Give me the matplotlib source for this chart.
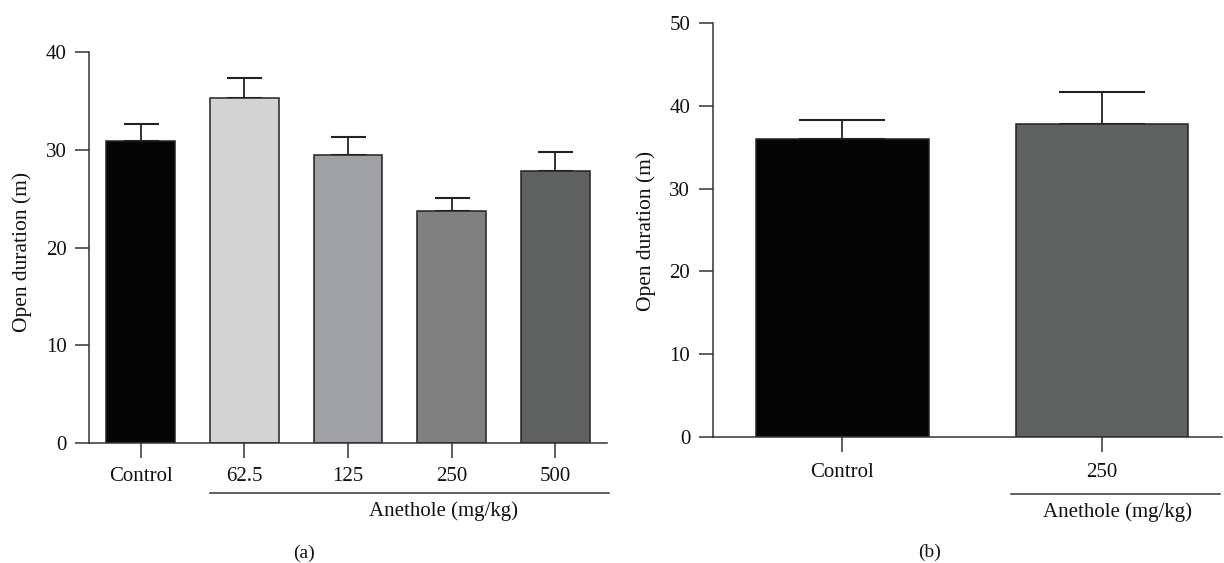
import matplotlib
matplotlib.use("Agg")
import matplotlib.pyplot as plt
import matplotlib.transforms as mtransforms

# Data panel (a)
cats_a = ["Control", "62.5", "125", "250", "500"]
means_a = [30.9, 35.3, 29.45, 23.7, 27.8]
errs_a = [1.8, 2.1, 1.9, 1.35, 2.0]
colors_a = ["#050505", "#d3d3d3", "#a0a1a4", "#808080", "#5f6060"]

# Data panel (b)
cats_b = ["Control", "250"]
means_b = [35.95, 37.85]
errs_b = [2.35, 3.85]
colors_b = ["#050505", "#5f6060"]

yticks_a = [0, 10, 20, 30, 40]
yticks_b = [0, 10, 20, 30, 40, 50]
ylabel = "Open duration (m)"
group_label = "Anethole (mg/kg)"

plt.rcParams["font.family"] = ["Liberation Serif", "DejaVu Serif"]
spine_c = "#333333"
txt_c = "#111111"

fig = plt.figure(figsize=(12.24, 5.63), dpi=100)
W, H = 1224, 563

def make_axes(x0, x1, ybot, ytop):
    return fig.add_axes([x0 / W, 1 - ybot / H, (x1 - x0) / W, (ybot - ytop) / H])

ax1 = make_axes(89, 607, 443, 52.2)
ax2 = make_axes(712.5, 1222, 436.7, 23.3)

def style(ax, cats, means, errs, colors, yticks, capsize, xpad, xmax):
    x = list(range(len(cats)))
    ax.bar(x, means, width=0.665, color=colors, edgecolor="#222222", linewidth=1.1, zorder=2)
    ax.errorbar(x, means, yerr=[[0] * len(errs), errs], fmt="none", ecolor="#222222",
                elinewidth=1.3, capsize=capsize, capthick=1.5, zorder=1)
    ax.set_xlim(-0.5, xmax)
    ax.set_ylim(yticks[0], yticks[-1])
    ax.set_yticks(yticks)
    ax.set_xticks(x)
    ax.set_xticklabels(cats)
    for s in ["top", "right"]:
        ax.spines[s].set_visible(False)
    for s in ["left", "bottom"]:
        ax.spines[s].set_color(spine_c)
        ax.spines[s].set_linewidth(1.1)
    ax.tick_params(axis="y", direction="out", length=10, width=1.1, color=spine_c,
                   labelsize=15, pad=6, labelcolor=txt_c)
    ax.tick_params(axis="x", direction="out", length=11, width=1.1, color=spine_c,
                   labelsize=15, pad=xpad, labelcolor=txt_c)

style(ax1, cats_a, means_a, errs_a, colors_a, yticks_a, 12.6, 6, 4.5)
style(ax2, cats_b, means_b, errs_b, colors_b, yticks_b, 31, 8, 1.462)

# group lines and labels
t1 = mtransforms.blended_transform_factory(ax1.transData, ax1.transAxes)
ax1.plot([0.668, 4.52], [-0.128, -0.128], color=spine_c, lw=1.1, transform=t1, clip_on=False)
ax1.text(2.917, -0.174, group_label, transform=t1, ha="center", va="center", fontsize=15, color=txt_c)

t2 = mtransforms.blended_transform_factory(ax2.transData, ax2.transAxes)
ax2.plot([0.649, 1.454], [-0.139, -0.139], color=spine_c, lw=1.1, transform=t2, clip_on=False)
ax2.text(1.058, -0.182, group_label, transform=t2, ha="center", va="center", fontsize=15, color=txt_c)

# y labels
fig.text(22 / W, 1 - 252 / H, ylabel, rotation=90, ha="center", va="center", fontsize=15.5, color=txt_c)
fig.text(646 / W, 1 - 231 / H, ylabel, rotation=90, ha="center", va="center", fontsize=15.5, color=txt_c)

# panel labels
fig.text(304 / W, 1 - 553 / H, "(a)", ha="center", va="center", fontsize=14, color=txt_c)
fig.text(930 / W, 1 - 552 / H, "(b)", ha="center", va="center", fontsize=14, color=txt_c)

fig.savefig("out.png", dpi=100)
